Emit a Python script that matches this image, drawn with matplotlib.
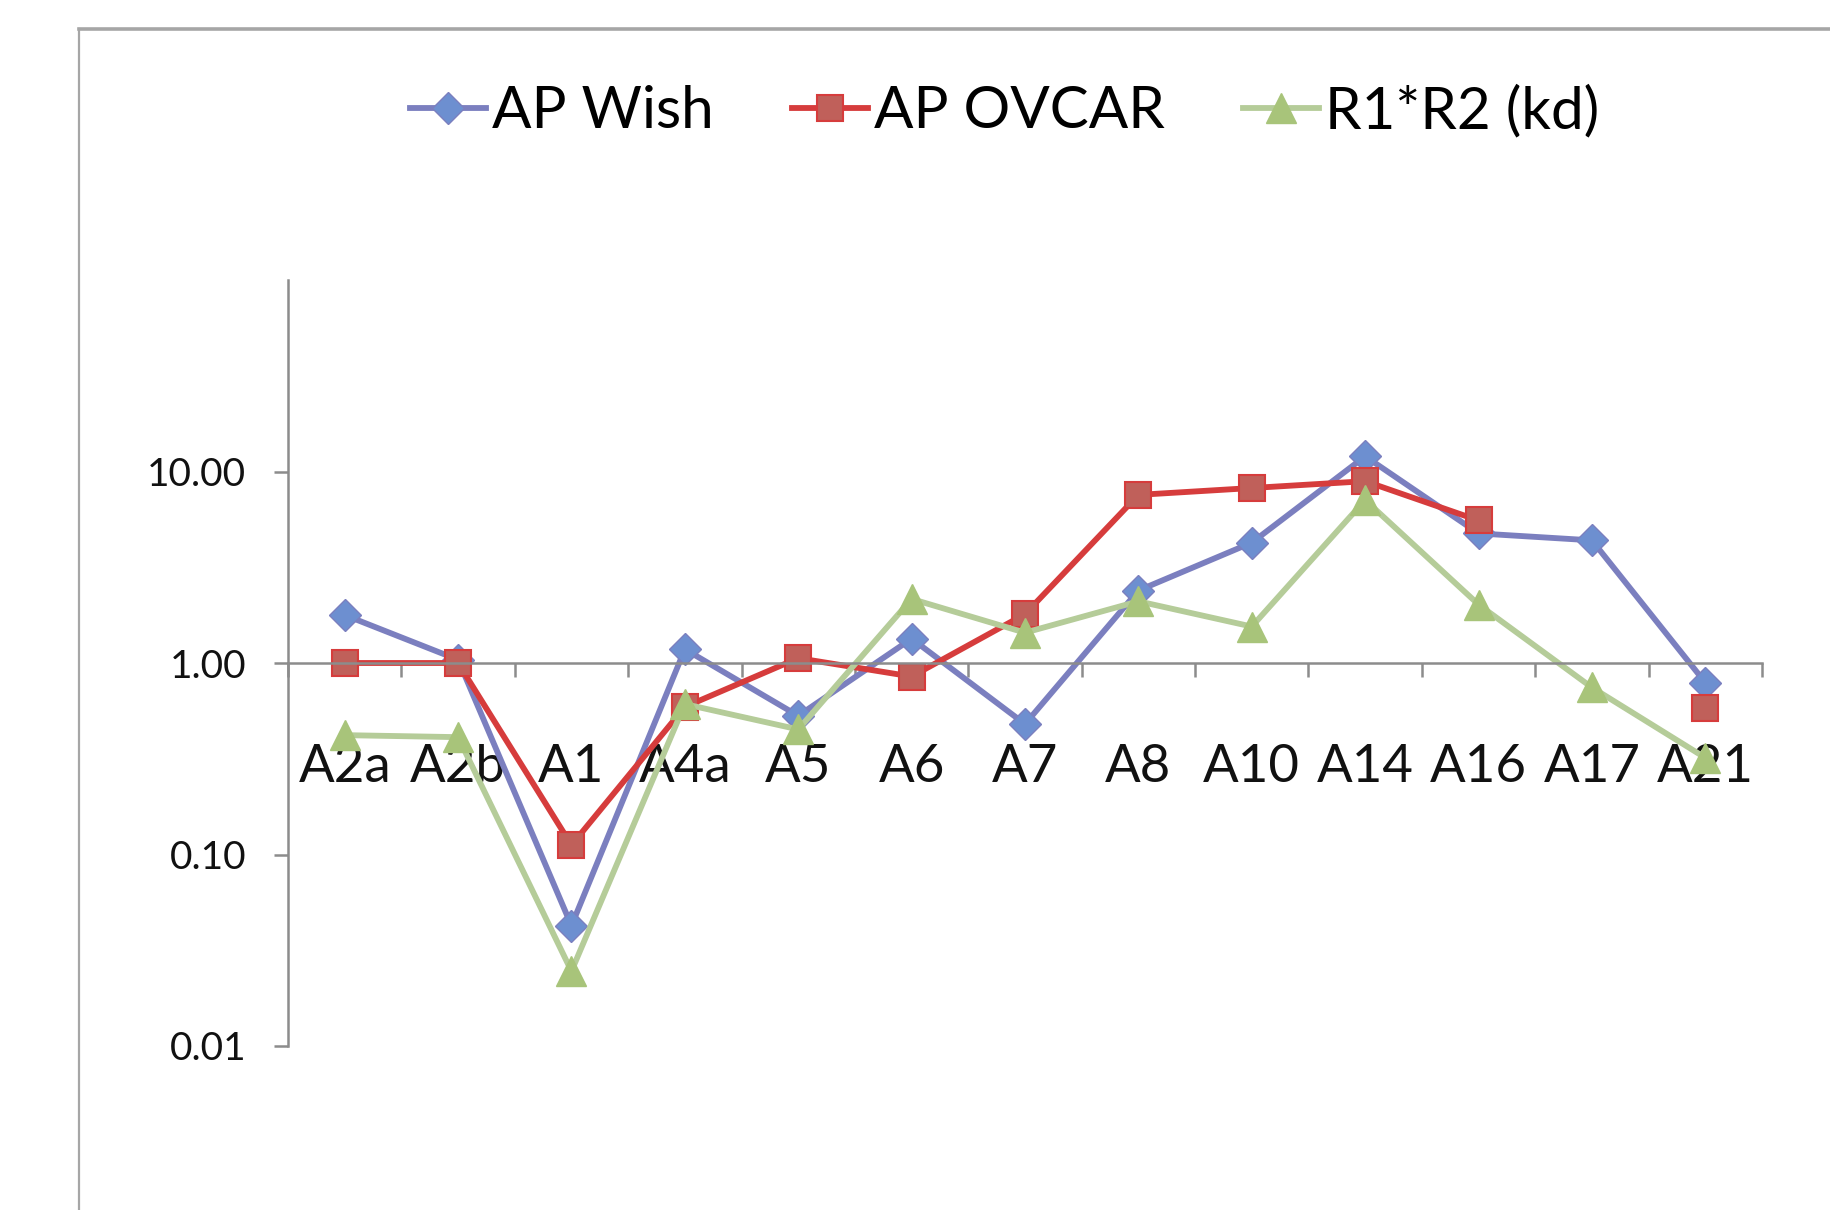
import numpy as np
import matplotlib
matplotlib.use("Agg")
import matplotlib.pyplot as plt
from matplotlib.lines import Line2D
from matplotlib.ticker import FixedLocator, FuncFormatter, NullLocator

# Relative values per receptor subtype
categories = ["A2a", "A2b", "A1", "A4a", "A5", "A6", "A7", "A8",
              "A10", "A14", "A16", "A17", "A21"]
ap_wish = [1.78, 1.04, 0.0425, 1.18, 0.53, 1.34, 0.48, 2.39, 4.25, 12.0, 4.75, 4.37, 0.79]
ap_ovcar = [1.00, 1.00, 0.112, 0.59, 1.06, 0.85, 1.80, 7.55, 8.2, 8.9, 5.55, np.nan, 0.58]
r1r2_kd = [0.42, 0.41, 0.0246, 0.61, 0.45, 2.16, 1.44, 2.10, 1.55, 7.1, 2.02, 0.745, 0.32]
y_ticks = [0.01, 0.1, 1, 10]

plt.rcParams['font.family'] = ['Lato', 'DejaVu Sans']

W, H = 1830, 1210
fig = plt.figure(figsize=(W / 100, H / 100), dpi=100)
fig.patch.set_facecolor('white')

# outer chart frame (top and left edges visible)
frame_c = '#a6a6a6'
fig.add_artist(Line2D([79 / W, 1.0], [1 - 29 / H, 1 - 29 / H],
                      transform=fig.transFigure, color=frame_c, lw=2.6))
fig.add_artist(Line2D([79 / W, 79 / W], [1 - 29 / H, 0.0],
                      transform=fig.transFigure, color=frame_c, lw=1.6))

ax = fig.add_axes([288 / W, 1 - 1046 / H, (1762 - 288) / W, (1046 - 280) / H])
x = np.arange(len(categories))

ax.plot(x, ap_wish, color='#7b7fbf', lw=4.2, marker='D', markersize=16,
        markerfacecolor='#6d8fd0', markeredgecolor='#7b7fbf', markeredgewidth=1,
        label='AP Wish')
ax.plot(x, ap_ovcar, color='#d63c3c', lw=4.2, marker='s', markersize=19,
        markerfacecolor='#c0605a', markeredgecolor='#d63c3c', markeredgewidth=1.5,
        label='AP OVCAR')
ax.plot(x, r1r2_kd, color='#b5cc99', lw=4.2, marker='^', markersize=21,
        markerfacecolor='#a8c47a', markeredgecolor='#a8c47a', markeredgewidth=1,
        label='R1*R2 (kd)')

ax.set_yscale('log')
ax.set_ylim(0.01, 100)
ax.set_xlim(-0.5, len(categories) - 0.5)

for s in ('top', 'right'):
    ax.spines[s].set_visible(False)
axis_c = '#8c8c8c'
ax.spines['left'].set_color(axis_c)
ax.spines['left'].set_linewidth(1.8)
ax.spines['bottom'].set_color(axis_c)
ax.spines['bottom'].set_linewidth(1.8)
ax.spines['bottom'].set_position(('data', 1))

ax.yaxis.set_major_locator(FixedLocator(y_ticks))
ax.yaxis.set_minor_locator(NullLocator())
ax.yaxis.set_major_formatter(FuncFormatter(lambda v, p: f"{v:.2f}"))
ax.tick_params(axis='y', which='major', direction='out', length=10, width=1.8,
               color=axis_c, labelsize=28, pad=20, labelcolor='#111111')

ax.set_xticks(x)
ax.set_xticklabels(categories)
ax.set_xticks(np.arange(-0.5, len(categories)), minor=True)
ax.tick_params(axis='x', which='major', length=0, labelsize=38, pad=58,
               labelcolor='#111111')
ax.tick_params(axis='x', which='minor', direction='out', length=10, width=1.8,
               color=axis_c)

fig.legend(loc='center', bbox_to_anchor=(0.549, 0.908), ncol=3, frameon=False,
           fontsize=42, handlelength=1.3, handletextpad=0.1, columnspacing=1.35,
           markerscale=1.0)

fig.savefig('out.png', dpi=100, facecolor='white')
